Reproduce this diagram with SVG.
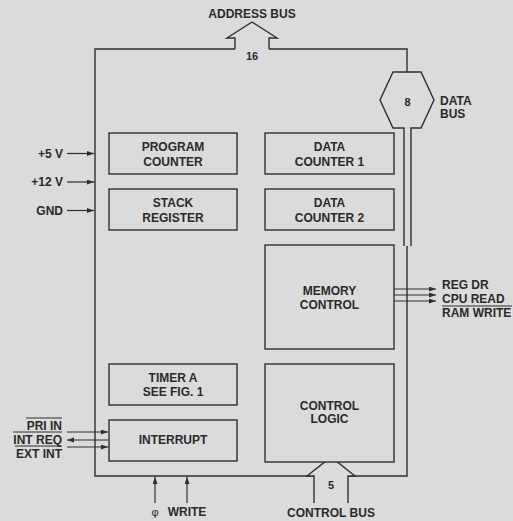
<svg xmlns="http://www.w3.org/2000/svg" width="513" height="521" viewBox="0 0 513 521">
<style>
  .bg{fill:#dbdbdb}
  .box{fill:#dbdbdb;stroke:#2f2f2f;stroke-width:1.4}
  .ln{fill:none;stroke:#2f2f2f;stroke-width:1.4}
  .bus{fill:#dbdbdb;stroke:#2f2f2f;stroke-width:1.4;stroke-linejoin:miter}
  .sig{fill:none;stroke:#2f2f2f;stroke-width:1.2}
  .ov{stroke:#2f2f2f;stroke-width:1.1}
  .t{font-family:"Liberation Sans",Arial,Helvetica,sans-serif;font-size:12px;font-weight:bold;fill:#2a2a2a}
  .n{font-size:11px}
  .c{text-anchor:middle}
  .e{text-anchor:end}
</style>
<defs>
  <marker id="ah" markerUnits="userSpaceOnUse" markerWidth="8" markerHeight="6" refX="7" refY="2.5" orient="auto">
    <path d="M0,0 L7,2.5 L0,5 z" fill="#2f2f2f"/>
  </marker>
</defs>
<rect class="bg" x="0" y="0" width="513" height="521"/>
<g id="connectors">
  <path class="ln" d="M235,49 H95 V476 H314 M348,476 H407 V246 M269,49 H407 V72"/>
  <path class="sig" marker-end="url(#ah)" d="M67,153.5 H94"/>
  <path class="sig" marker-end="url(#ah)" d="M67,182 H94"/>
  <path class="sig" marker-end="url(#ah)" d="M67,210.5 H94"/>
  <path class="sig" marker-end="url(#ah)" d="M67,432 H108"/>
  <path class="sig" marker-end="url(#ah)" d="M108,440 H67"/>
  <path class="sig" marker-end="url(#ah)" d="M67,447 H108"/>
  <path class="sig" marker-end="url(#ah)" d="M155,503 V477"/>
  <path class="sig" marker-end="url(#ah)" d="M187,503 V477"/>
  <path class="sig" marker-end="url(#ah)" d="M394,289 H436"/>
  <path class="sig" marker-end="url(#ah)" d="M394,295 H436"/>
  <path class="sig" marker-end="url(#ah)" d="M394,301 H436"/>
</g>
<g id="address-bus">
  <path class="bus" d="M235,49 V38 H227 L252,22 L277,38 H269 V49"/>
  <text class="t c" x="252" y="18">ADDRESS BUS</text>
  <text class="t n c" x="252" y="59.5">16</text>
</g>
<g id="data-bus">
  <path class="bus" d="M404,246 V128 H393 L380,100 L393,72 H421 L434,100 L421,128 H411 V246"/>
  <text class="t n c" x="407.5" y="106">8</text>
  <text class="t" x="440" y="104.5">DATA</text>
  <text class="t" x="440" y="117.5">BUS</text>
</g>
<g id="control-bus">
  <path class="bus" d="M314,503 V476 H307 L331,457 L355,476 H348 V503"/>
  <text class="t n c" x="331" y="489">5</text>
  <text class="t c" x="331" y="517">CONTROL BUS</text>
</g>
<g id="program-counter">
  <rect class="box" x="109" y="133" width="128" height="41"/>
  <text class="t c" x="173" y="151">PROGRAM</text>
  <text class="t c" x="173" y="166">COUNTER</text>
</g>
<g id="stack-register">
  <rect class="box" x="109" y="189" width="128" height="41"/>
  <text class="t c" x="173" y="207">STACK</text>
  <text class="t c" x="173" y="221.5">REGISTER</text>
</g>
<g id="data-counter-1">
  <rect class="box" x="265" y="133" width="129" height="41"/>
  <text class="t c" x="329.5" y="151">DATA</text>
  <text class="t c" x="329.5" y="166">COUNTER 1</text>
</g>
<g id="data-counter-2">
  <rect class="box" x="265" y="189" width="129" height="41"/>
  <text class="t c" x="329.5" y="207">DATA</text>
  <text class="t c" x="329.5" y="221.5">COUNTER 2</text>
</g>
<g id="memory-control">
  <rect class="box" x="265" y="245" width="129" height="104"/>
  <text class="t c" x="329.5" y="295">MEMORY</text>
  <text class="t c" x="329.5" y="309">CONTROL</text>
</g>
<g id="timer-a">
  <rect class="box" x="109" y="364" width="128" height="41"/>
  <text class="t c" x="173" y="382">TIMER A</text>
  <text class="t c" x="173" y="396">SEE FIG. 1</text>
</g>
<g id="interrupt">
  <rect class="box" x="109" y="420" width="128" height="41"/>
  <text class="t c" x="173" y="444">INTERRUPT</text>
</g>
<g id="control-logic">
  <rect class="box" x="265" y="364" width="129" height="98"/>
  <text class="t c" x="329.5" y="409.5">CONTROL</text>
  <text class="t c" x="329.5" y="423">LOGIC</text>
</g>
<g id="signal-labels">
  <text class="t e" x="63" y="157.5">+5 V</text>
  <text class="t e" x="63" y="186">+12 V</text>
  <text class="t e" x="63" y="215">GND</text>
  <text class="t e" x="62" y="430">PRI IN</text>
  <text class="t e" x="62" y="444">INT REQ</text>
  <text class="t e" x="62" y="457.5">EXT INT</text>
  <line class="ov" x1="26" y1="418" x2="62" y2="418"/>
  <line class="ov" x1="13" y1="432" x2="62" y2="432"/>
  <line class="ov" x1="15" y1="446" x2="62" y2="446"/>
  <text class="t c" x="155" y="516" style="font-weight:normal;font-size:11px">φ</text>
  <text class="t c" x="187" y="516">WRITE</text>
  <text class="t" x="442" y="288.5">REG DR</text>
  <text class="t" x="442" y="302.5">CPU READ</text>
  <text class="t" x="442" y="316.5">RAM WRITE</text>
  <line class="ov" x1="442" y1="306" x2="512" y2="306"/>
</g>
</svg>
